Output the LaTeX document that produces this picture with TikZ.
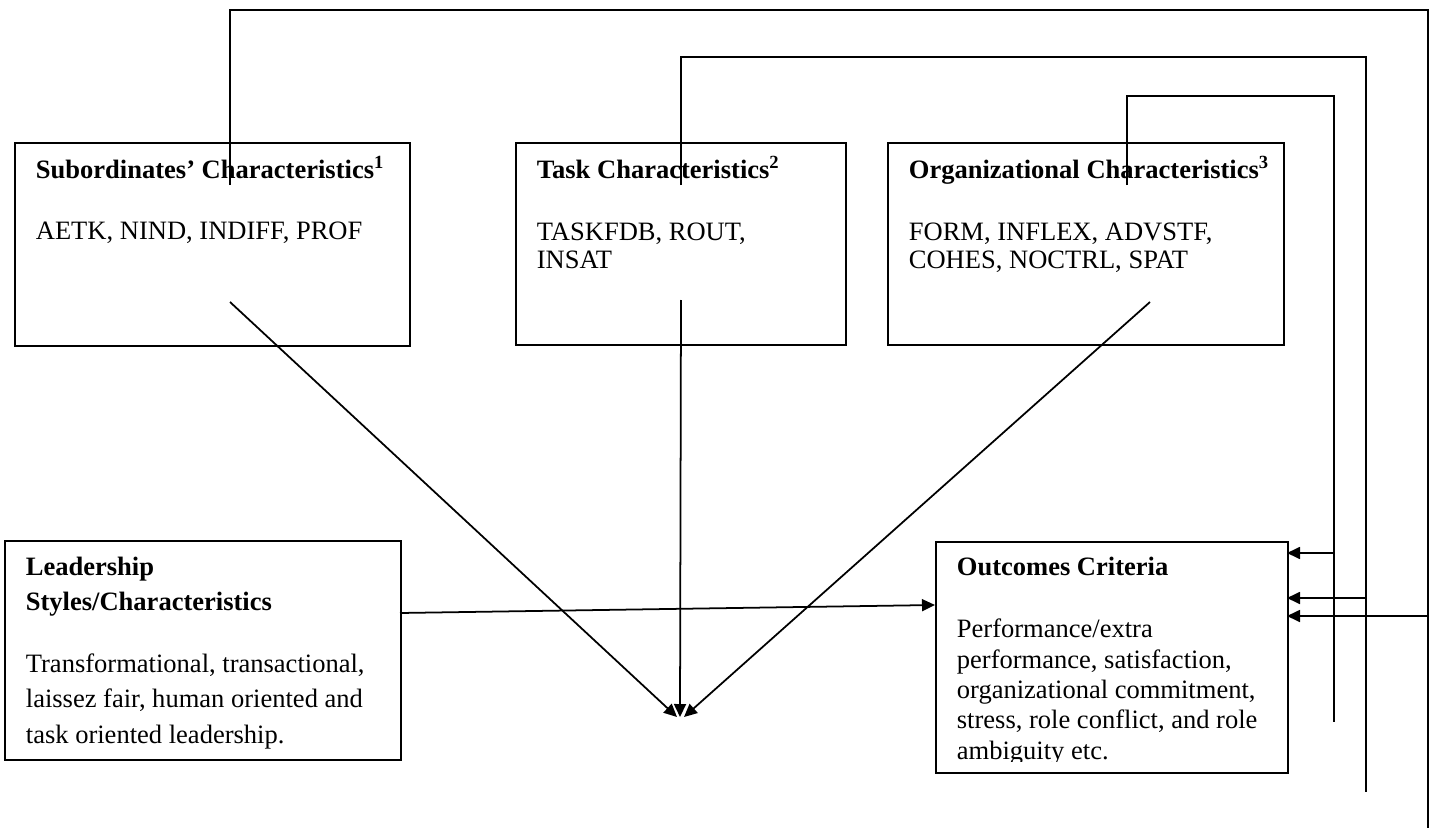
\documentclass[tikz,border=0pt]{standalone}
\usepackage{fontspec}
\setmainfont{Liberation Serif}
\usetikzlibrary{arrows.meta}

\begin{document}
\begin{tikzpicture}[
    x=0.02cm, y=-0.02cm,
    line width=1pt,
    % Style for the framed boxes
    panel/.style={draw, rectangle, anchor=north west, inner sep=0pt},
    % Styles for the bold headings and the plain lines of text
    head/.style={anchor=base west, inner sep=0pt, font=\fontsize{15.1pt}{18pt}\selectfont\bfseries},
    body/.style={anchor=base west, inner sep=0pt, font=\fontsize{15.1pt}{18pt}\selectfont},
    % Style for the arrows
    arr/.style={-{Triangle[length=0.26cm, width=0.24cm]}}
]

    \useasboundingbox (0,0) rectangle (1434,828);

    % --- 1. Boxes ---
    \node[panel, minimum width=7.9cm, minimum height=4.06cm] (sub) at (14,142) {};
    \node[panel, minimum width=6.6cm, minimum height=4.04cm] (task) at (515,142) {};
    \node[panel, minimum width=7.92cm, minimum height=4.04cm] (org) at (887,142) {};
    \node[panel, minimum width=7.92cm, minimum height=4.38cm] (lead) at (4,540) {};
    \node[panel, minimum width=7.04cm, minimum height=4.62cm] (out) at (935,541) {};

    % --- 2. Texts (one node per line) ---
    \node[head] (subHead) at (35,178) {Subordinates’ Characteristics\textsuperscript{1}};
    \node[body] (subText) at (35,239) {AETK, NIND, INDIFF, PROF};

    \node[head] (taskHead) at (536,178) {Task Characteristics\textsuperscript{2}};
    \node[body] (taskText1) at (536,240) {TASKFDB, ROUT,};
    \node[body] (taskText2) at (536,268) {INSAT};

    \node[head] (orgHead) at (908,178) {Organizational Characteristics\textsuperscript{3}};
    \node[body] (orgText1) at (908,240) {FORM, INFLEX, ADVSTF,};
    \node[body] (orgText2) at (908,268) {COHES, NOCTRL, SPAT};

    \node[head] (leadHead1) at (25,575) {Leadership};
    \node[head] (leadHead2) at (25,610) {Styles/Characteristics};
    \node[body] (leadText1) at (25,672) {Transformational, transactional,};
    \node[body] (leadText2) at (25,707) {laissez fair, human oriented and};
    \node[body] (leadText3) at (25,743) {task oriented leadership.};

    \node[head] (outHead) at (956,575) {Outcomes Criteria};
    \node[body] (outText1) at (956,637) {Performance/extra};
    \node[body] (outText2) at (956,668) {performance, satisfaction,};
    \node[body] (outText3) at (956,698) {organizational commitment,};
    \node[body] (outText4) at (956,728) {stress, role conflict, and role};
    \begin{scope}
        % last line is cut by the box
        \clip (935,541) rectangle (1287,761);
        \node[body] (outText5) at (956,759) {ambiguity etc.};
    \end{scope}

    % --- 3. Arrows to the meeting point ---
    \coordinate (meetL) at (677,717);
    \coordinate (meet) at (680,717);
    \coordinate (meetR) at (684,717);
    \coordinate (subOut) at (230,302);
    \coordinate (taskOut) at (681,300);
    \coordinate (orgOut) at (1150,302);

    \draw[arr] (subOut) -- (meetL);
    \draw[arr] (taskOut) -- (meet);
    \draw[arr] (orgOut) -- (meetR);

    % Leadership -> Outcomes
    \coordinate (leadOut) at (400,613);
    \coordinate (leadIn) at (935,605);
    \draw[arr] (leadOut) -- (leadIn);

    % --- 4. Feedback lines ---
    \coordinate (subFb) at (230,185);
    \coordinate (subTop) at (1428,10);
    \coordinate (subEnd) at (1428,828);
    \coordinate (subIn) at (1287,616);

    \coordinate (taskFb) at (681,185);
    \coordinate (taskTop) at (1366,57);
    \coordinate (taskEnd) at (1366,792);
    \coordinate (taskIn) at (1287,598);

    \coordinate (orgFb) at (1127,185);
    \coordinate (orgTop) at (1334,96);
    \coordinate (orgEnd) at (1334,722);
    \coordinate (orgIn) at (1287,553);

    \draw (subFb) |- (subTop) -- (subEnd);
    \draw (taskFb) |- (taskTop) -- (taskEnd);
    \draw (orgFb) |- (orgTop) -- (orgEnd);

    \draw[arr] (subIn -| subEnd) -- (subIn);
    \draw[arr] (taskIn -| taskEnd) -- (taskIn);
    \draw[arr] (orgIn -| orgEnd) -- (orgIn);

\end{tikzpicture}
\end{document}
